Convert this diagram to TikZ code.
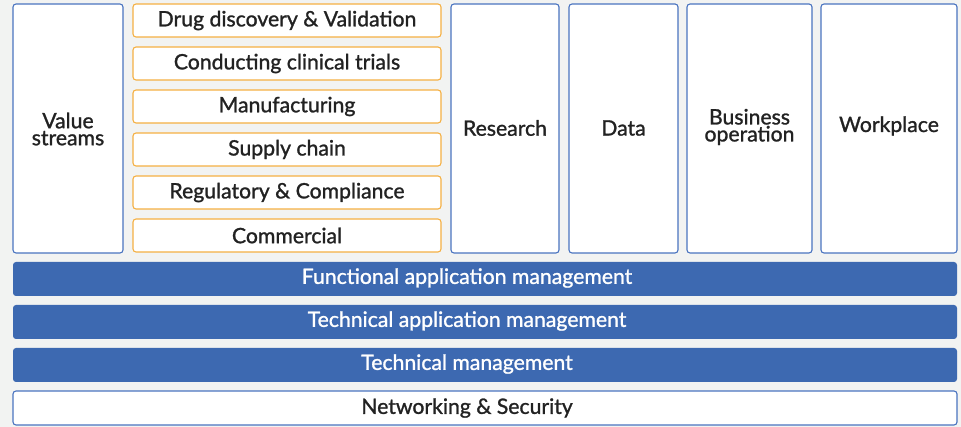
\documentclass[tikz,border=0pt]{standalone}
\usepackage{fontspec}
\setmainfont{Lato}
\newfontfamily\mfont{Lato}[FakeBold=1.2]
\definecolor{bg}{HTML}{F2F3F2}
\definecolor{bluefill}{HTML}{3D69B1}
\definecolor{blueline}{HTML}{4A74C0}
\definecolor{orangeline}{HTML}{F5B043}
\definecolor{txt}{HTML}{222222}
\begin{document}
\begin{tikzpicture}[x=1pt,y=-1pt,
  colbox/.style={draw=blueline,fill=white,line width=1.1pt,rounded corners=3pt},
  vsbox/.style={draw=orangeline,fill=white,line width=1.1pt,rounded corners=3pt},
  barbox/.style={fill=bluefill,draw=none,rounded corners=3pt},
  netbox/.style={draw=blueline,fill=white,line width=1.1pt,rounded corners=3pt},
  lbl/.style={font=\mfont\fontsize{21.2}{17}\selectfont,text=txt,align=center,inner sep=0pt},
  wlbl/.style={font=\mfont\fontsize{21.2}{17}\selectfont,text=white,align=center,inner sep=0pt}]
\fill[bg] (0,0) rectangle (961,427);
\useasboundingbox (0,0) rectangle (961,427);
% columns
\draw[colbox] (13,4) rectangle (123,253);
\node[lbl] (vs) at (68,129) {Value\\streams};
\draw[colbox] (451,4) rectangle (559,253);
\node[lbl] (res) at (505,128) {Research};
\draw[colbox] (569,4) rectangle (678,253);
\node[lbl] (dat) at (623.5,128) {Data};
\draw[colbox] (687,4) rectangle (812,253);
\node[lbl] (bus) at (749.5,127) {Business\\operation};
\draw[colbox] (821,4) rectangle (957,253);
\node[lbl] (wp) at (889,126) {Workplace};
% value stream boxes
\foreach \t [count=\i from 0] in {Drug discovery \& Validation,Conducting clinical trials,Manufacturing,Supply chain,Regulatory \& Compliance,Commercial}{
  \draw[vsbox] (133,4+43*\i) rectangle (441,37+43*\i);
  \node[lbl] (v\i) at (287,20.5+43*\i) {\t};
}
% bars
\draw[barbox] (13,262) rectangle (957,296);
\node[wlbl] (fam) at (467,278) {Functional application management};
\draw[barbox] (13,305) rectangle (957,339);
\node[wlbl] (tam) at (467,321) {Technical application management};
\draw[barbox] (13,348) rectangle (957,382);
\node[wlbl] (tm) at (467,364) {Technical management};
\draw[netbox] (13,391) rectangle (957,425);
\node[lbl] (ns) at (467,408) {Networking \& Security};
\end{tikzpicture}
\end{document}
